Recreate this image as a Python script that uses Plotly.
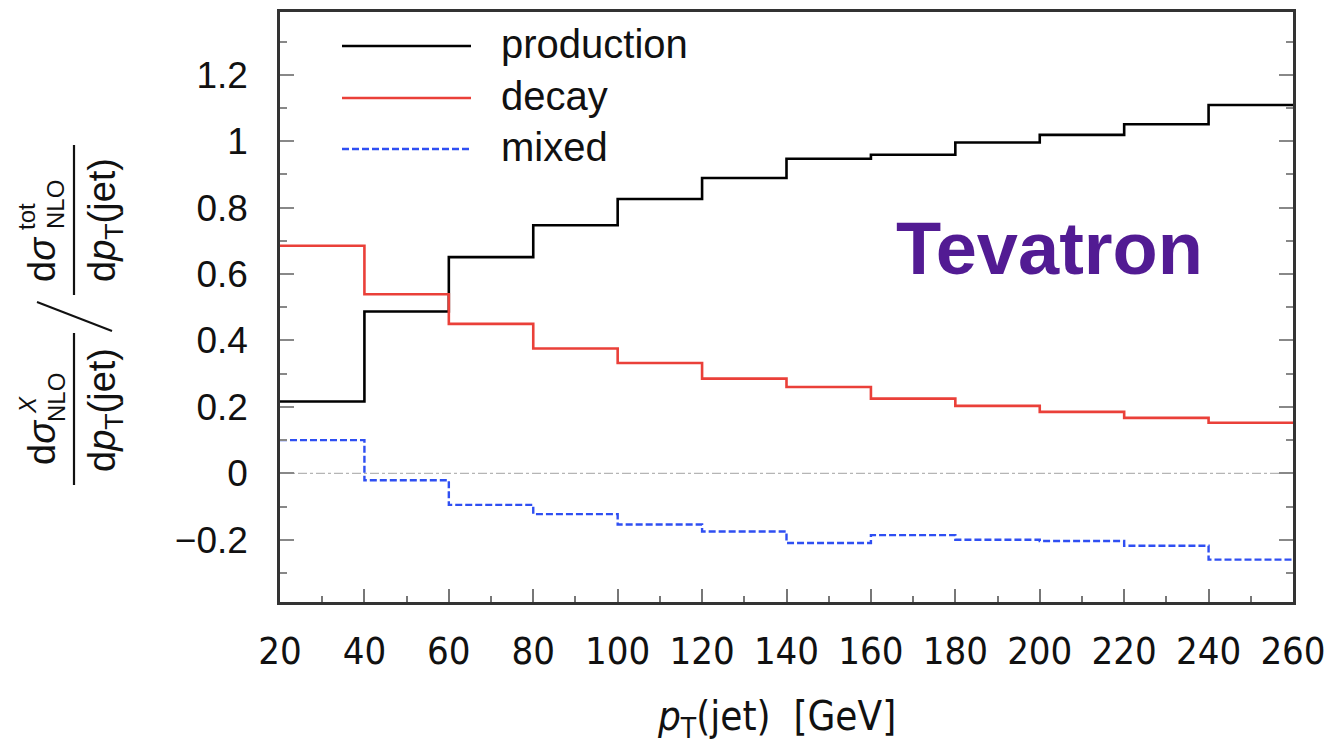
import plotly.graph_objects as go

# Bin edges of the jet transverse momentum (GeV)
pt_edges = [20, 40, 60, 80, 100, 120, 140, 160, 180, 200, 220, 240, 260]

# Per-bin ratios dσ^X / dσ^tot
production = [0.216, 0.487, 0.651, 0.747, 0.826, 0.889, 0.947, 0.959, 0.996, 1.019, 1.051, 1.109]
decay = [0.685, 0.539, 0.450, 0.376, 0.332, 0.285, 0.260, 0.225, 0.203, 0.185, 0.167, 0.152]
mixed = [0.100, -0.021, -0.095, -0.123, -0.154, -0.175, -0.210, -0.186, -0.200, -0.204, -0.218, -0.260]

x_ticks = [20, 40, 60, 80, 100, 120, 140, 160, 180, 200, 220, 240, 260]
y_ticks = [-0.2, 0, 0.2, 0.4, 0.6, 0.8, 1.0, 1.2]
y_tick_text = ["\u22120.2", "0", "0.2", "0.4", "0.6", "0.8", "1", "1.2"]

series_names = ["production", "decay", "mixed"]
series_colors = ["#000000", "#ea4039", "#2f4ff2"]
series_dash = ["solid", "solid", "7px,3px"]

W, H = 1326, 752
L, R, T, B = 280, 33, 12, 150
PW, PH = W - L - R, H - T - B


def px(xp):
    return (xp - L) / PW


def py(yp):
    return (H - B - yp) / PH


MAIN_FONT = "Liberation Sans, Arial, sans-serif"
NARROW_FONT = "Liberation Sans Narrow, DejaVu Sans Condensed, Arial Narrow, sans-serif"

fig = go.Figure()

for name, vals, col, dash in zip(series_names, [production, decay, mixed], series_colors, series_dash):
    fig.add_trace(go.Scatter(
        x=pt_edges,
        y=vals + [vals[-1]],
        mode="lines",
        line=dict(color=col, width=2.6 if dash == "solid" else 2.4, dash=dash, shape="hv"),
        name=name,
        showlegend=False,
    ))

shapes = []
annotations = []

# reference line at zero
shapes.append(dict(type="line", xref="paper", yref="y", x0=0, x1=1, y0=0, y1=0,
                   line=dict(color="#b5b5b5", width=1.2, dash="dashdot"), layer="below"))

# hand-drawn key in the upper left
key_y = [46, 98, 149]
for name, col, dash, yk in zip(series_names, series_colors, series_dash, key_y):
    shapes.append(dict(type="line", xref="paper", yref="paper",
                       x0=px(342), x1=px(471), y0=py(yk), y1=py(yk),
                       line=dict(color=col, width=2.6, dash=dash)))
    annotations.append(dict(text=name, xref="paper", yref="paper", x=px(499), y=py(yk - 2),
                            xanchor="left", yanchor="middle", showarrow=False,
                            font=dict(family=MAIN_FONT, size=40, color="#111111")))

# label inside the plot
annotations.append(dict(text="<b>Tevatron</b>", xref="paper", yref="paper", x=px(1049), y=py(248),
                        xanchor="center", yanchor="middle", showarrow=False,
                        font=dict(family="Liberation Sans, Arial, Helvetica, sans-serif", size=74,
                                  color="#521b93")))

# x-axis title
annotations.append(dict(text="<i>p</i><sub>T</sub>(jet)  [GeV]", xref="paper", yref="paper",
                        x=px(776), y=py(719), xanchor="center", yanchor="middle", showarrow=False,
                        font=dict(family=NARROW_FONT, size=40, color="#111111")))

# y-axis title: ratio of two differential cross sections, written rotated
frac_font = dict(family=MAIN_FONT, size=38, color="#111111")
small_font = dict(family=MAIN_FONT, size=24, color="#111111")


def rot(text, xc, yc, font):
    annotations.append(dict(text=text, xref="paper", yref="paper", x=px(xc), y=py(yc),
                            xanchor="center", yanchor="middle", showarrow=False,
                            textangle=-90, font=font))


# upper fraction (total)
rot("d<i>σ</i>", 42, 259, frac_font)
rot("tot", 27, 217, small_font)
rot("NLO", 56, 205, small_font)
rot("d<i>p</i><sub>T</sub>(jet)", 105, 220, frac_font)
shapes.append(dict(type="line", xref="paper", yref="paper", x0=px(74), x1=px(74),
                   y0=py(145), y1=py(295), line=dict(color="#111111", width=2.2)))

# lower fraction (component X)
rot("d<i>σ</i>", 42, 442, frac_font)
rot("<i>X</i>", 27, 405, small_font)
rot("NLO", 56, 398, small_font)
rot("d<i>p</i><sub>T</sub>(jet)", 105, 410, frac_font)
shapes.append(dict(type="line", xref="paper", yref="paper", x0=px(74), x1=px(74),
                   y0=py(333), y1=py(485), line=dict(color="#111111", width=2.2)))

# the slash between the two fractions
shapes.append(dict(type="line", xref="paper", yref="paper", x0=px(37), x1=px(112),
                   y0=py(302), y1=py(331), line=dict(color="#111111", width=2)))

fig.update_layout(
    width=W, height=H,
    margin=dict(l=L, r=R, t=T, b=B, pad=0, autoexpand=False),
    paper_bgcolor="white",
    plot_bgcolor="white",
    showlegend=False,
    shapes=shapes,
    annotations=annotations,
)

fig.update_xaxes(
    range=[20, 260],
    tickvals=x_ticks,
    ticktext=[str(v) for v in x_ticks],
    ticks="inside", ticklen=13, tickwidth=2, tickcolor="#777777",
    minor=dict(ticks="inside", ticklen=6, tickwidth=1.5, tickcolor="#777777", dtick=10, tick0=10),
    showline=True, linecolor="#333333", linewidth=2.5, mirror=True,
    showgrid=False, zeroline=False,
    automargin=False,
    ticklabelstandoff=14,
    ticklabeloverflow="allow",
    tickfont=dict(family=NARROW_FONT, size=38, color="#111111"),
)

fig.update_yaxes(
    range=[-0.3875, 1.389],
    tickvals=y_ticks,
    ticktext=y_tick_text,
    ticks="inside", ticklen=14, tickwidth=2, tickcolor="#888888",
    minor=dict(ticks="inside", ticklen=7, tickwidth=1.5, tickcolor="#888888", dtick=0.1, tick0=0),
    showline=True, linecolor="#333333", linewidth=2.5, mirror="allticks",
    showgrid=False, zeroline=False,
    automargin=False,
    ticklabelstandoff=22,
    tickfont=dict(family=MAIN_FONT, size=37, color="#111111"),
)

fig.write_html("out.html")
